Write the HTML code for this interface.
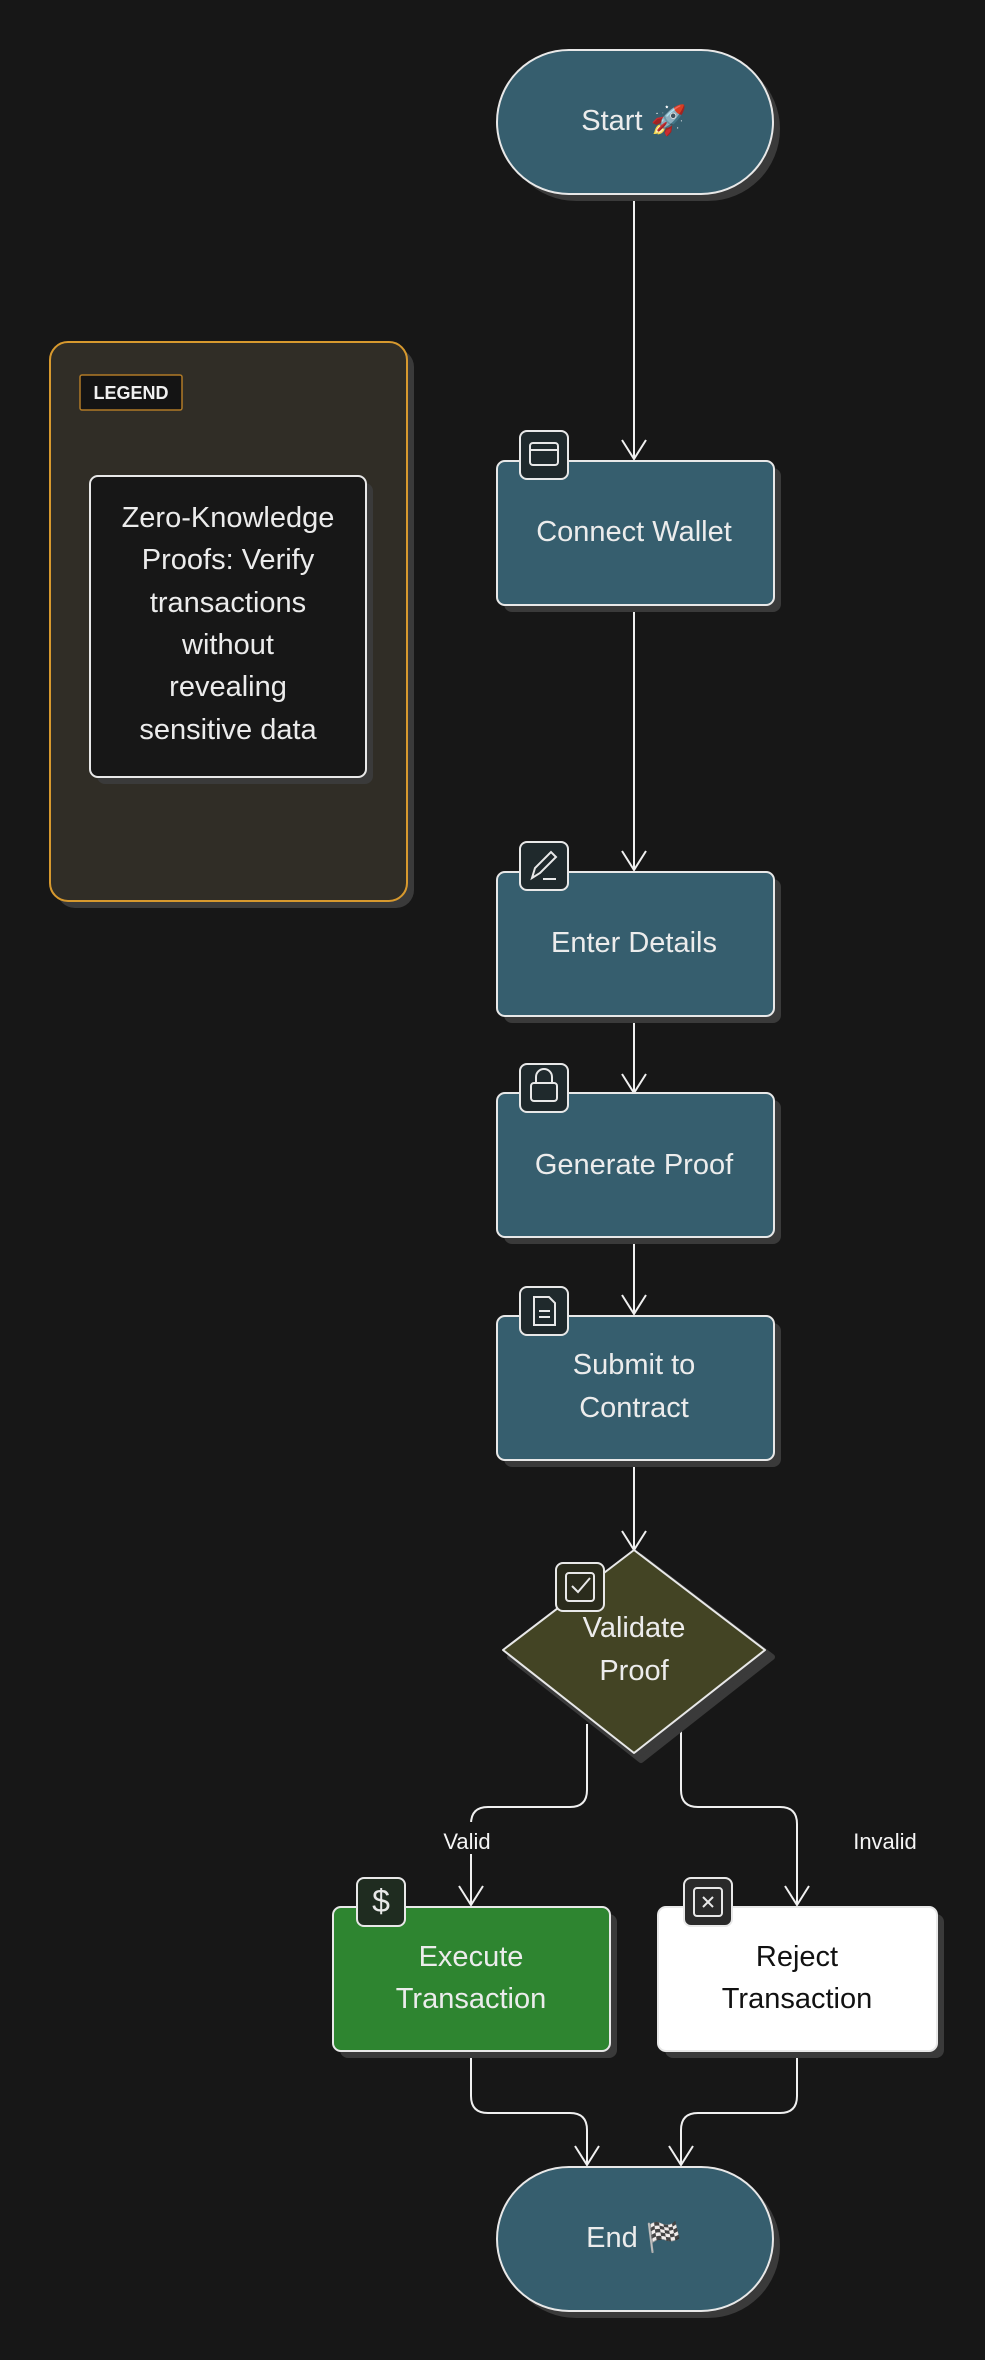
<!DOCTYPE html>
<html><head><meta charset="utf-8"><style>
html,body{margin:0;padding:0;background:#171717;}
svg{display:block}
text{font-family:"Liberation Sans","Noto Sans CJK SC",sans-serif;}
</style></head><body>
<svg width="985" height="2360" viewBox="0 0 985 2360" xmlns="http://www.w3.org/2000/svg">
<rect width="985" height="2360" fill="#171717"/>

<!-- Legend -->
<rect x="57" y="349" width="357" height="559" rx="18" fill="#3a3a3a"/>
<rect x="50" y="342" width="357" height="559" rx="18" fill="#302d26" stroke="#d7992e" stroke-width="2"/>
<rect x="80" y="375" width="102" height="35" rx="2" fill="#141414" stroke="#b07a26" stroke-width="1.5"/>
<text x="131" y="399" font-size="18" font-weight="bold" fill="#f0f0f0" text-anchor="middle">LEGEND</text>
<rect x="97" y="483" width="276" height="301" rx="8" fill="#3a3a3a"/>
<rect x="90" y="476" width="276" height="301" rx="8" fill="#171717" stroke="#e8e8e8" stroke-width="2"/>
<g font-size="29" fill="#ececec" text-anchor="middle">
<text x="228" y="527">Zero-Knowledge</text>
<text x="228" y="569">Proofs: Verify</text>
<text x="228" y="612">transactions</text>
<text x="228" y="654">without</text>
<text x="228" y="696">revealing</text>
<text x="228" y="739">sensitive data</text>
</g>

<!-- Connectors -->
<g stroke="#f0f0f0" stroke-width="2" fill="none">
<line x1="634" y1="196" x2="634" y2="459"/>
<polyline points="622,440 634,459 646,440"/>
<line x1="634" y1="605" x2="634" y2="870"/>
<polyline points="622,851 634,870 646,851"/>
<line x1="634" y1="1017" x2="634" y2="1093"/>
<polyline points="622,1074 634,1093 646,1074"/>
<line x1="634" y1="1239" x2="634" y2="1314"/>
<polyline points="622,1295 634,1314 646,1295"/>
<line x1="634" y1="1461" x2="634" y2="1550"/>
<polyline points="622,1531 634,1550 646,1531"/>
<path d="M587,1724 V1790 Q587,1807 570,1807 H488 Q471,1807 471,1824 V1905"/>
<polyline points="459,1886 471,1905 483,1886"/>
<path d="M681,1724 V1790 Q681,1807 698,1807 H780 Q797,1807 797,1824 V1905"/>
<polyline points="785,1886 797,1905 809,1886"/>
<path d="M471,2051 V2096 Q471,2113 488,2113 H570 Q587,2113 587,2130 V2165"/>
<polyline points="575,2146 587,2165 599,2146"/>
<path d="M797,2051 V2096 Q797,2113 780,2113 H698 Q681,2113 681,2130 V2165"/>
<polyline points="669,2146 681,2165 693,2146"/>
</g>
<rect x="430" y="1822" width="80" height="32" fill="#171717"/>
<text x="467" y="1849" font-size="22" fill="#f5f5f5" text-anchor="middle">Valid</text>
<text x="885" y="1849" font-size="22" fill="#f5f5f5" text-anchor="middle">Invalid</text>

<!-- Start -->
<rect x="504" y="57" width="276" height="144" rx="72" fill="#3a3a3a"/>
<rect x="497" y="50" width="276" height="144" rx="72" fill="#365e6e" stroke="#e8e8e8" stroke-width="2"/>
<text x="634" y="130" font-size="29" fill="#ececec" text-anchor="middle">Start 🚀</text>

<!-- Process boxes -->
<g>
<rect x="504" y="468" width="277" height="144" rx="8" fill="#3a3a3a"/>
<rect x="497" y="461" width="277" height="144" rx="8" fill="#365e6e" stroke="#e8e8e8" stroke-width="2"/>
<text x="634" y="541" font-size="29" fill="#ececec" text-anchor="middle">Connect Wallet</text>

<rect x="504" y="879" width="277" height="144" rx="8" fill="#3a3a3a"/>
<rect x="497" y="872" width="277" height="144" rx="8" fill="#365e6e" stroke="#e8e8e8" stroke-width="2"/>
<text x="634" y="952" font-size="29" fill="#ececec" text-anchor="middle">Enter Details</text>

<rect x="504" y="1100" width="277" height="144" rx="8" fill="#3a3a3a"/>
<rect x="497" y="1093" width="277" height="144" rx="8" fill="#365e6e" stroke="#e8e8e8" stroke-width="2"/>
<text x="634" y="1174" font-size="29" fill="#ececec" text-anchor="middle">Generate Proof</text>

<rect x="504" y="1323" width="277" height="144" rx="8" fill="#3a3a3a"/>
<rect x="497" y="1316" width="277" height="144" rx="8" fill="#365e6e" stroke="#e8e8e8" stroke-width="2"/>
<text x="634" y="1374" font-size="29" fill="#ececec" text-anchor="middle">Submit to</text>
<text x="634" y="1417" font-size="29" fill="#ececec" text-anchor="middle">Contract</text>
</g>

<!-- Diamond -->
<path d="M641,1557 L772,1657 L641,1760 L510,1657 Z" fill="#3a3a3a" stroke="#3a3a3a" stroke-width="6" stroke-linejoin="round"/>
<path d="M634,1550 L765,1650 L634,1753 L503,1650 Z" fill="#434424" stroke="#e8e8e8" stroke-width="2" stroke-linejoin="round"/>
<text x="634" y="1637" font-size="29" fill="#ececec" text-anchor="middle">Validate</text>
<text x="634" y="1680" font-size="29" fill="#ececec" text-anchor="middle">Proof</text>

<!-- Execute / Reject -->
<rect x="340" y="1914" width="277" height="144" rx="8" fill="#3a3a3a"/>
<rect x="333" y="1907" width="277" height="144" rx="8" fill="#2e8530" stroke="#e8e8e8" stroke-width="2"/>
<text x="471" y="1966" font-size="29" fill="#ececec" text-anchor="middle">Execute</text>
<text x="471" y="2008" font-size="29" fill="#ececec" text-anchor="middle">Transaction</text>

<rect x="665" y="1914" width="279" height="144" rx="8" fill="#3a3a3a"/>
<rect x="658" y="1907" width="279" height="144" rx="8" fill="#ffffff" stroke="#e8e8e8" stroke-width="2"/>
<text x="797" y="1966" font-size="29" fill="#111" text-anchor="middle">Reject</text>
<text x="797" y="2008" font-size="29" fill="#111" text-anchor="middle">Transaction</text>

<!-- End -->
<rect x="504" y="2174" width="276" height="144" rx="72" fill="#3a3a3a"/>
<rect x="497" y="2167" width="276" height="144" rx="72" fill="#365e6e" stroke="#e8e8e8" stroke-width="2"/>
<text x="634" y="2247" font-size="29" fill="#ececec" text-anchor="middle">End 🏁</text>

<!-- Icons -->
<g stroke="#e8e8e8" stroke-width="2" fill="none">
<rect x="520" y="431" width="48" height="48" rx="7" fill="#1f292c"/>
<rect x="530" y="443" width="28" height="22" rx="3"/><line x1="530" y1="450" x2="558" y2="450"/>

<rect x="520" y="842" width="48" height="48" rx="7" fill="#1f292c"/>
<path d="M532,878 L535,868 L551,852 L556,857 L540,873 Z"/><line x1="543" y1="879" x2="556" y2="879"/>

<rect x="520" y="1064" width="48" height="48" rx="7" fill="#1f292c"/>
<rect x="531" y="1083" width="26" height="18" rx="3"/><path d="M536,1083 V1077 A8,8 0 0 1 552,1077 V1083"/>

<rect x="520" y="1287" width="48" height="48" rx="7" fill="#1f292c"/>
<path d="M534,1297 H549 L555,1303 V1325 H534 Z"/><line x1="539" y1="1311" x2="550" y2="1311"/><line x1="539" y1="1317" x2="550" y2="1317"/>

<rect x="556" y="1563" width="48" height="48" rx="7" fill="#2a2b1c"/>
<rect x="566" y="1573" width="28" height="28" rx="3"/><polyline points="572,1586 578,1592 590,1578"/>

<rect x="357" y="1878" width="48" height="48" rx="7" fill="#1f2c20"/>
<rect x="684" y="1878" width="48" height="48" rx="7" fill="#2a2a2a"/>
<rect x="694" y="1888" width="28" height="28" rx="3"/><line x1="703" y1="1897" x2="713" y2="1907"/><line x1="713" y1="1897" x2="703" y2="1907"/>
</g>
<text x="381" y="1912" font-size="32" fill="#e8e8e8" text-anchor="middle">$</text>
</svg>
</body></html>
